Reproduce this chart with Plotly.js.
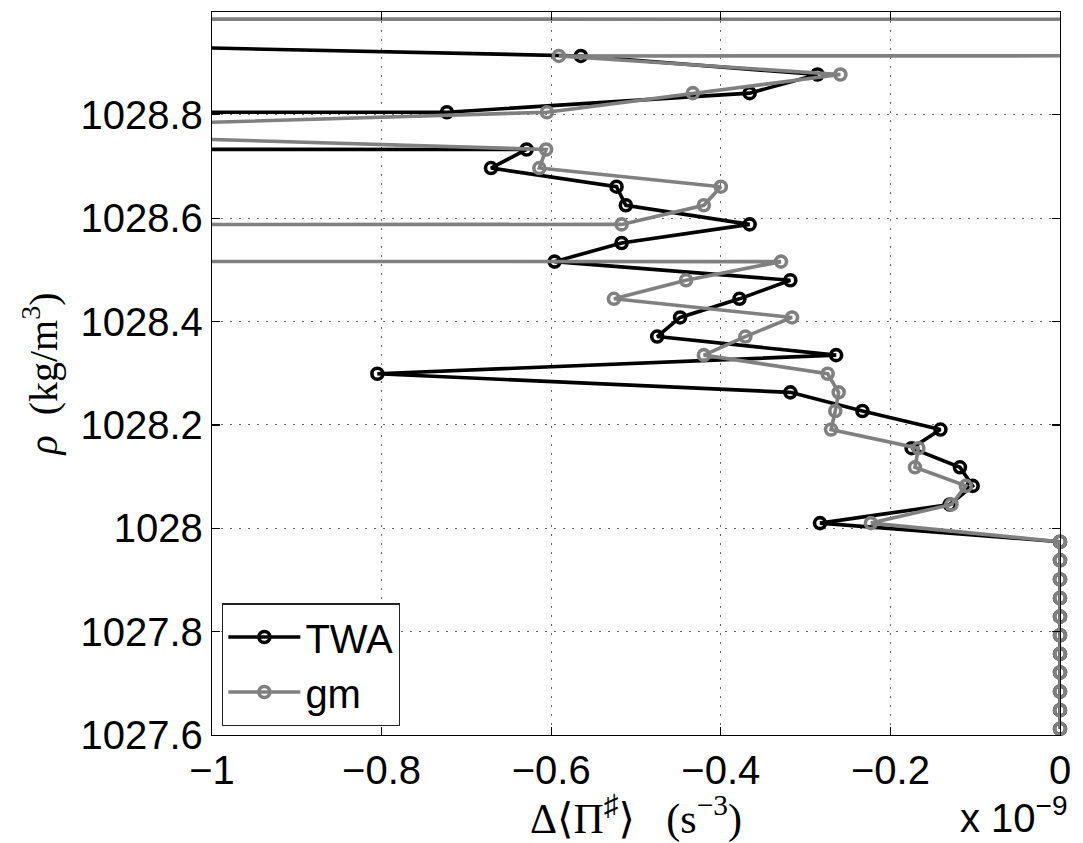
<!DOCTYPE html>
<html>
<head>
<meta charset="utf-8">
<script src="https://cdn.plot.ly/plotly-3.0.1.min.js"></script>
<style>html,body{margin:0;padding:0;background:#fff;}#chart{width:1083px;height:843px;}</style>
</head>
<body>
<div id="chart"></div>
<script>
// density levels (kg/m^3), bottom to top
var rho = [1027.612, 1027.648, 1027.684, 1027.721, 1027.757, 1027.793, 1027.829, 1027.865,
           1027.901, 1027.938, 1027.974, 1028.010, 1028.046, 1028.082, 1028.118, 1028.155,
           1028.191, 1028.227, 1028.263, 1028.299, 1028.335, 1028.371, 1028.408, 1028.444,
           1028.480, 1028.516, 1028.552, 1028.588, 1028.625, 1028.661, 1028.697, 1028.733,
           1028.769, 1028.805, 1028.842, 1028.878, 1028.914, 1028.950, 1028.986];
// Delta <Pi#> in units of 1e-9 s^-3 (values far outside the axis run off the plot)
var twa = [0, 0, 0, 0, 0, 0, 0, 0, 0, 0, 0,
           -0.283, -0.130, -0.103, -0.118, -0.175, -0.141, -0.233, -0.318, -0.805, -0.264,
           -0.475, -0.448, -0.378, -0.318, -0.596, -0.517, -0.366, -0.512, -0.523, -0.671,
           -0.629, -100, -0.723, -0.366, -0.286, -0.565, -1.59, -2.0];
var gm  = [0, 0, 0, 0, 0, 0, 0, 0, 0, 0, 0,
           -0.223, -0.128, -0.111, -0.171, -0.167, -0.270, -0.265, -0.261, -0.274, -0.420,
           -0.371, -0.316, -0.526, -0.441, -0.329, -100, -0.517, -0.420, -0.400, -0.614,
           -0.606, -1.34, -0.605, -0.433, -0.259, -0.591, 100, -3];
var seriesNames = ['TWA', 'gm'];
var xTickVals = [-1, -0.8, -0.6, -0.4, -0.2, 0];
var xTickText = ['\u22121', '\u22120.8', '\u22120.6', '\u22120.4', '\u22120.2', '0'];
var yTickVals = [1027.6, 1027.8, 1028.0, 1028.2, 1028.4, 1028.6, 1028.8];
var yTickText = ['1027.6', '1027.8', '1028', '1028.2', '1028.4', '1028.6', '1028.8'];

var sans = 'Liberation Sans, Arial, Helvetica, sans-serif';
var serif = 'Liberation Serif, DejaVu Serif, Times New Roman, serif';

function mk(x, name, color) {
  return {
    x: x, y: rho, name: name, type: 'scatter', mode: 'lines+markers',
    line: {color: color, width: 3.6},
    marker: {symbol: 'circle-open', size: 11, color: color, line: {width: 3.6, color: color}},
    cliponaxis: false
  };
}
var data = [mk(twa, seriesNames[0], '#000000'), mk(gm, seriesNames[1], '#808080')];

var axisCommon = {
  showline: true, linecolor: '#000', linewidth: 1.2, mirror: 'ticks',
  ticks: 'inside', ticklen: 8, tickwidth: 1.2, tickcolor: '#000',
  showgrid: true, gridcolor: 'rgba(0,0,0,0.6)', gridwidth: 1, griddash: '1.5px,7.5px',
  zeroline: false, tickfont: {family: sans, size: 40, color: '#000'}
};

var nb = '\u00A0';
var layout = {
  width: 1083, height: 843,
  margin: {l: 212, r: 23, t: 12, b: 108},
  paper_bgcolor: '#fff', plot_bgcolor: '#fff',
  showlegend: true,
  xaxis: Object.assign({}, axisCommon, {
    range: [-1, 0], tickmode: 'array', tickvals: xTickVals, ticktext: xTickText,
    title: {text: '\u0394\u27E8\u03A0<sup>\u266F</sup>\u27E9' + nb + nb + nb + '(s<sup>\u22123</sup>)',
            font: {family: serif, size: 42, color: '#000'}, standoff: 0}
  }),
  yaxis: Object.assign({}, axisCommon, {
    range: [1027.6, 1028.999], tickmode: 'array', tickvals: yTickVals, ticktext: yTickText,
    title: {text: '<i>\u03C1</i>' + nb + nb + '(kg/m<sup>3</sup>)',
            font: {family: serif, size: 40, color: '#000'}, standoff: 10}
  }),
  legend: {
    x: 0.012, y: 0.012, xanchor: 'left', yanchor: 'bottom',
    bgcolor: '#fff', bordercolor: '#222', borderwidth: 1.2,
    font: {family: sans, size: 40, color: '#000'}, tracegroupgap: 0,
    itemwidth: 72
  },
  annotations: [{
    xref: 'paper', yref: 'paper', x: 1.012, y: -0.148, xanchor: 'right', yanchor: 'bottom',
    text: 'x 10<sup>\u22129</sup>', showarrow: false,
    font: {family: sans, size: 40, color: '#000'}
  }]
};

Plotly.newPlot('chart', data, layout, {displayModeBar: false, staticPlot: true});
</script>
</body>
</html>
